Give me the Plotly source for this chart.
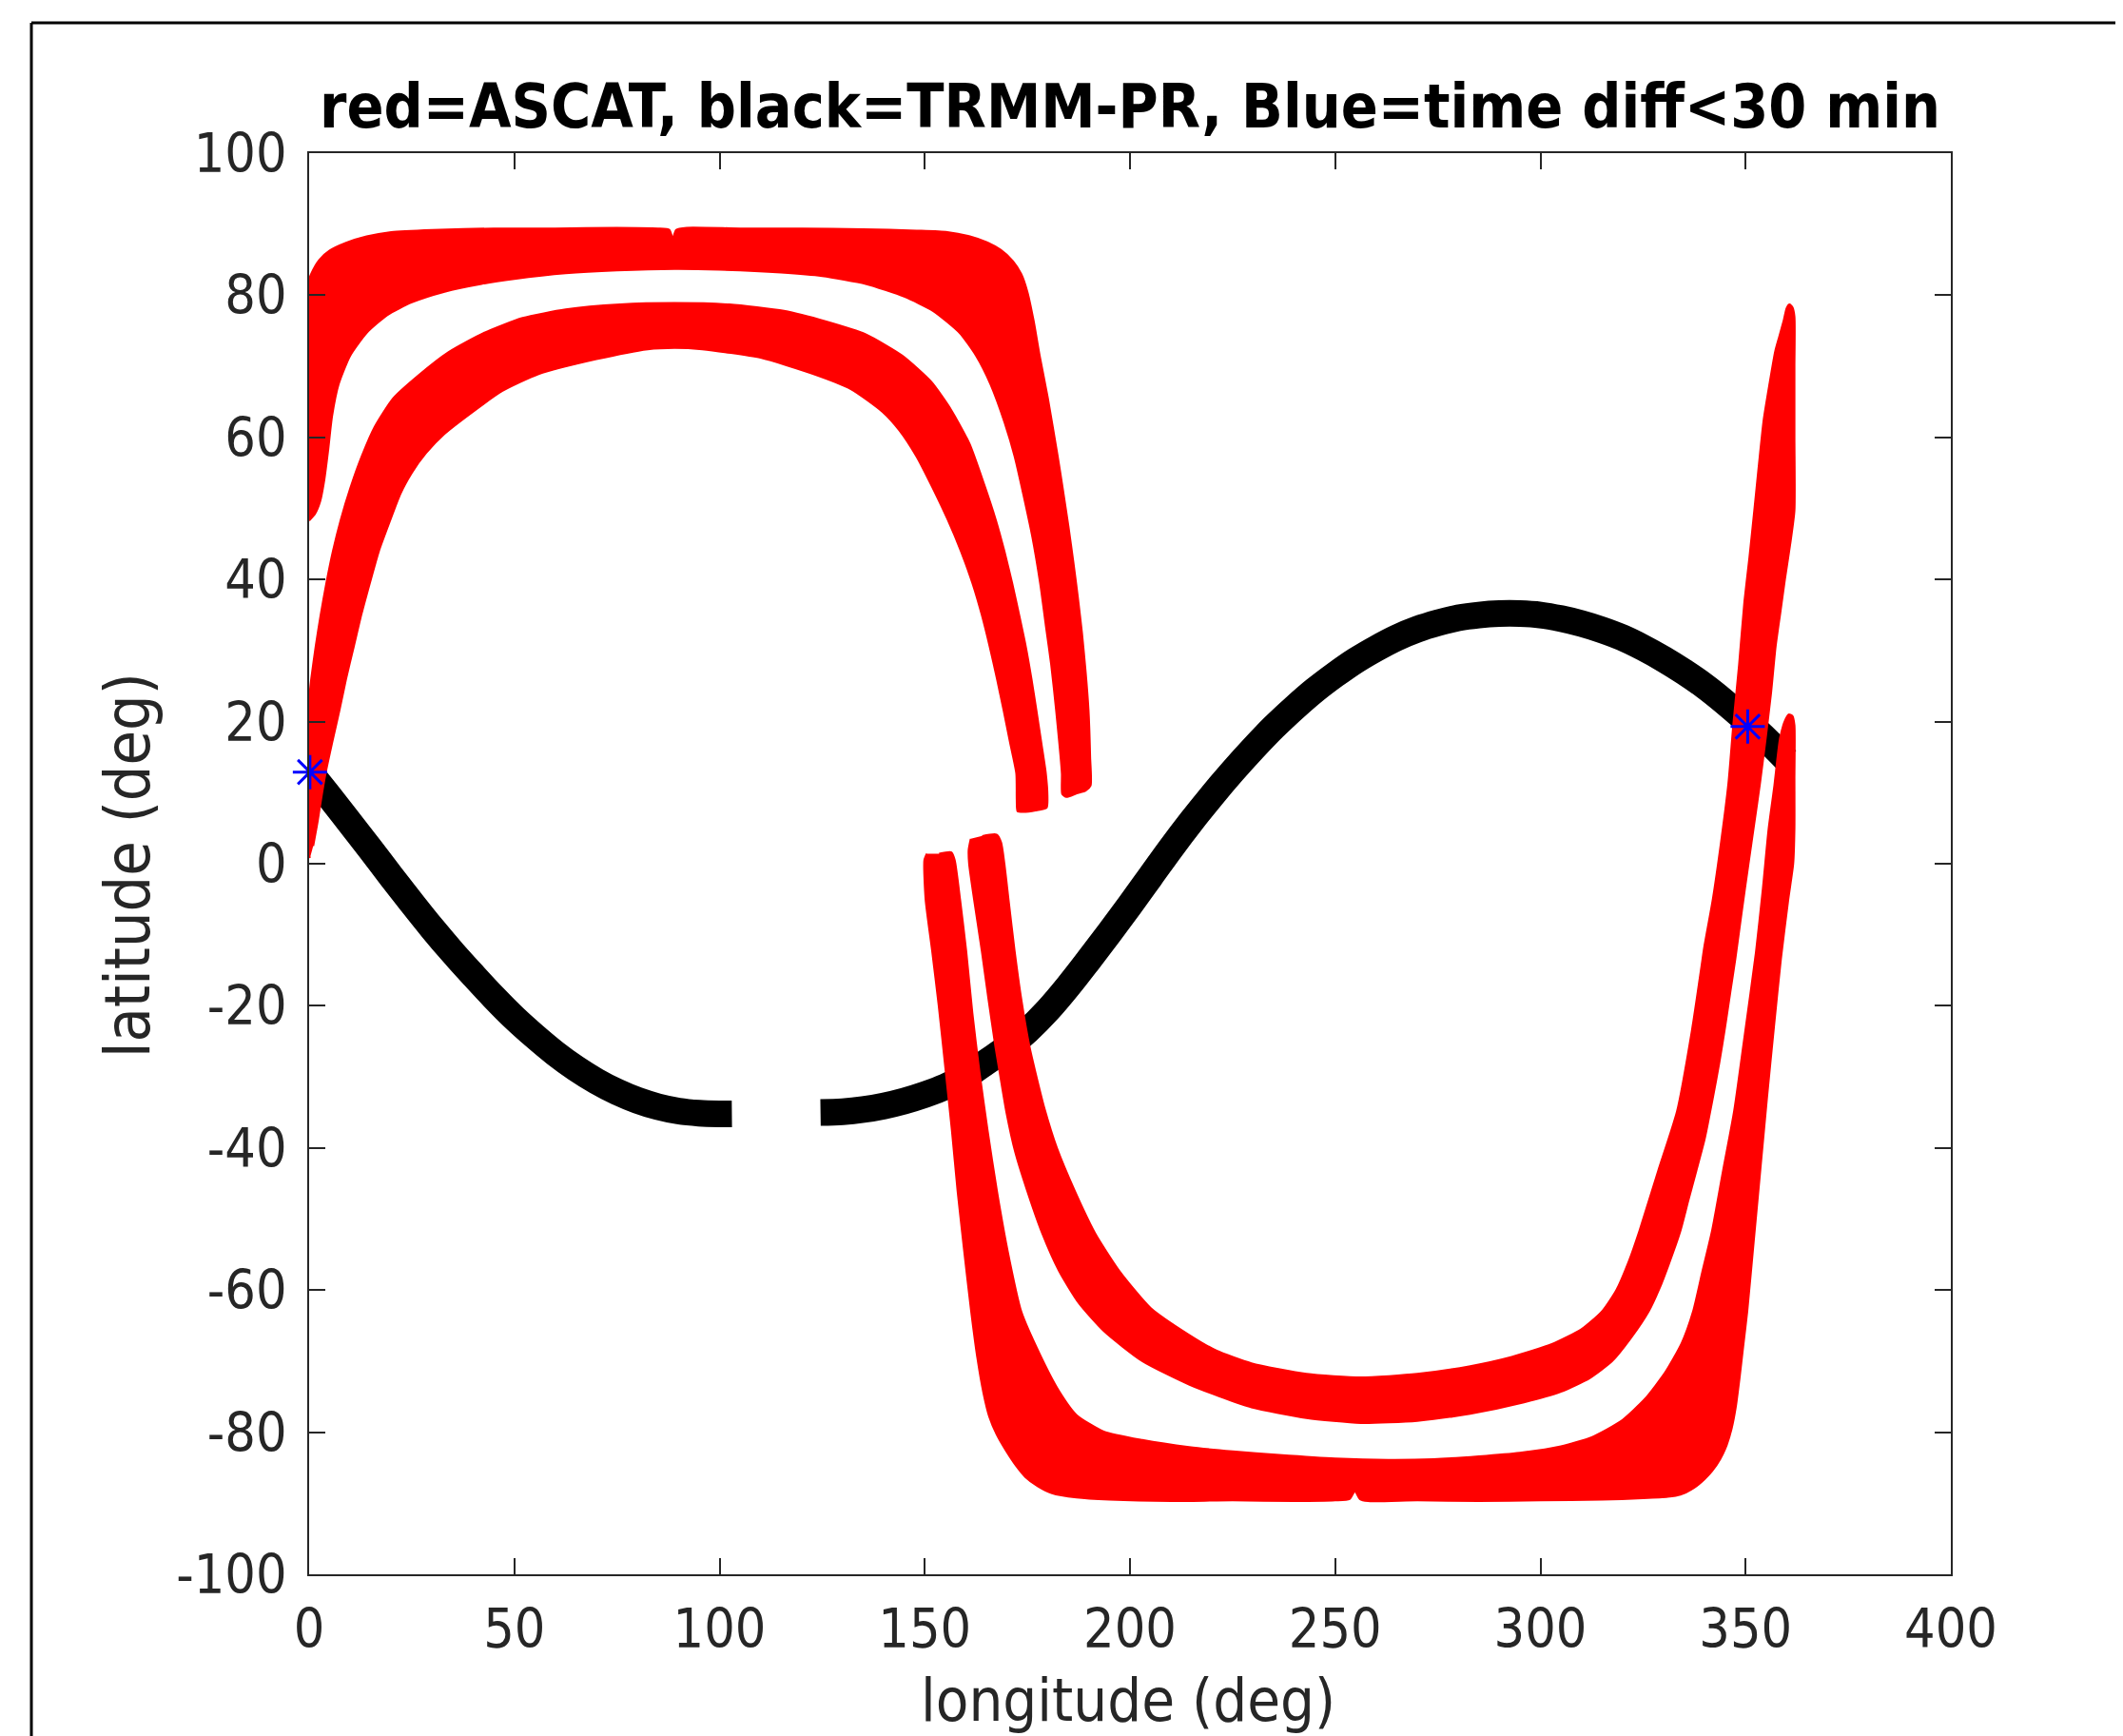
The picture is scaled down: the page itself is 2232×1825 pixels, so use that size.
import plotly.graph_objects as go

# ---------------- data ----------------
# TRMM-PR ground track (black), two segments
trmm_a_lon = [0, 5, 10, 15, 20, 25, 30, 35, 40, 45, 50, 55, 60, 65, 70, 75, 80, 85, 90, 95, 100, 103]
trmm_a_lat = [13.0, 9.4, 5.7, 2.0, -1.8, -5.5, -9.1, -12.5, -15.7, -18.8, -21.7, -24.3, -26.7, -28.8, -30.6,
              -32.1, -33.3, -34.2, -34.8, -35.1, -35.2, -35.2]
trmm_b_lon = [124.6, 130, 135, 140, 145, 150, 155, 160, 165, 170, 175, 180, 185, 190, 195, 200, 205, 210, 215,
              220, 225, 230, 235, 240, 245, 250, 255, 260, 265, 270, 275, 280, 285, 290, 295, 300, 305, 310, 315,
              320, 325, 330, 335, 340, 345, 350, 355, 360]
trmm_b_lat = [-35.0, -34.9, -34.6, -34.1, -33.4, -32.5, -31.4, -29.9, -27.9, -25.9, -23.5, -20.6, -17.2, -13.5,
              -9.7, -5.8, -1.8, 2.2, 6.0, 9.6, 13.0, 16.2, 19.2, 21.9, 24.4, 26.6, 28.6, 30.3, 31.8, 33.0, 33.9,
              34.6, 35.0, 35.2, 35.2, 35.0, 34.5, 33.8, 32.9, 31.8, 30.4, 28.8, 27.0, 25.0, 22.7, 20.2, 17.5, 14.6]

# ASCAT swaths (red) - outlines of the four swath bands
north_outer_lon = [-1.2, -1.6, -1.6, -1.5, -1.3, -0.6, 0.5, 2.5, 5.0, 9.0, 14.0, 20.0, 30.0, 45.0, 60.0, 75.0,
                   85.0, 87.8, 88.6, 89.4, 92.0, 105.0, 120.0, 135.0, 148.0, 155.5, 161.0, 165.0, 168.5, 171.5,
                   173.5, 175.0, 176.5, 178.0, 180.0, 182.4, 183.7, 185.0, 186.2, 187.3, 188.3, 189.2, 189.9,
                   190.3, 190.4, 189.2, 187.0, 184.5, 183.5,
                   183.4, 182.0, 180.8, 179.5, 178.1, 176.2, 174.0, 171.9, 169.5, 166.0, 162.5, 158.5, 152.0,
                   145.0, 135.6, 125.0, 115.0, 100.0, 89.0, 75.0, 62.5, 50.0, 42.0, 33.0, 25.0, 19.0, 14.0, 10.0,
                   7.2, 5.6, 4.6, 3.7, 2.7, 1.4, 0.0]
north_outer_lat = [48.6, 50.5, 60.0, 70.0, 78.0, 81.0, 83.0, 85.0, 86.3, 87.4, 88.3, 88.9, 89.2, 89.4, 89.4, 89.5,
                   89.4, 89.2, 88.0, 89.2, 89.5, 89.4, 89.4, 89.3, 89.1, 88.9, 88.3, 87.5, 86.4, 84.8,
                   83.0, 80.5, 76.5, 71.5, 65.5, 57.3, 52.5, 47.5, 42.5, 37.5, 32.5, 27.0, 21.6,
                   15.0, 11.0, 10.3, 9.9, 9.4, 9.8,
                   12.7, 21.6, 28.0, 33.5, 39.5, 46.0, 52.0, 57.3, 62.0, 67.5, 71.5, 74.7, 77.8,
                   79.8, 81.6, 82.7, 83.2, 83.6, 83.7, 83.5, 83.1, 82.3, 81.6, 80.5, 79.0, 77.2, 74.7, 71.5,
                   67.5, 63.0, 58.0, 54.0, 51.0, 49.2, 48.3]

north_inner_lon = [0.2, -0.8, -1.8, -1.8, -1.0, -0.3, 0.5, 1.6, 2.8, 4.2, 5.8, 7.7, 10.0, 12.8, 16.0, 20.5, 26.6,
                   34.0, 42.6, 52.0, 62.5, 75.8, 89.0, 102.4, 115.7, 126.0, 135.6, 144.5, 151.6, 156.5, 160.9,
                   164.4, 167.3, 169.4, 171.3, 173.0, 174.6, 176.0, 177.2, 178.4, 179.5, 179.9, 179.7, 177.0,
                   174.0, 172.6, 172.4,
                   172.3, 170.8, 169.2, 167.6, 165.8, 163.9, 161.6, 158.8, 155.6, 152.0, 148.0, 143.8, 139.7,
                   132.0, 122.4, 110.0, 95.8, 89.0, 82.5, 70.0, 55.9, 47.0, 39.9, 33.0, 28.5, 25.0, 22.2, 19.8,
                   17.0, 14.8, 12.7, 10.9, 9.0, 7.4, 5.6, 4.0, 2.9, 2.1, 1.0]
north_inner_lat = [0.8, 2.5, 6.0, 12.7, 18.0, 21.6, 26.0, 30.6, 35.0, 39.5, 44.0, 48.4, 52.8, 57.3, 61.5, 65.5,
                   68.7, 72.0, 74.7, 76.8, 78.0, 78.7, 78.9, 78.7, 77.8, 76.3, 74.5, 71.5, 67.8, 63.8, 59.1,
                   53.5, 48.4, 44.0, 39.5, 35.0, 30.6, 26.0, 21.6, 17.0, 12.7, 9.5, 7.9, 7.5,
                   7.3, 7.4, 9.0,
                   12.7, 17.0, 21.6, 26.0, 30.6, 35.0, 39.5, 44.0, 48.4, 52.8, 57.3, 61.0, 63.6,
                   66.8, 69.0, 71.2, 72.4, 72.6, 72.4, 71.0, 68.9, 66.5, 63.6, 60.5, 57.8, 55.0, 52.0, 48.4,
                   44.0, 39.5, 35.0, 30.6, 26.0, 21.6, 17.0, 12.7, 9.0, 6.0, 2.5]

south_outer_lon = [150.5, 149.9, 150.2, 151.8, 153.4, 155.1, 156.6, 158.0, 159.6, 161.3, 162.8, 164.3, 165.7,
                   167.5, 170.0, 172.2, 174.5, 177.5, 181.0, 187.0, 195.0, 210.0, 225.0, 240.0, 250.0, 253.5,
                   254.8, 256.0, 258.0, 270.0, 285.0, 300.0, 315.0, 325.0, 331.0, 334.1, 337.5, 340.0, 341.8,
                   343.8, 345.4, 346.6, 347.6, 348.5, 349.4, 350.4, 352.0, 353.6, 355.2, 356.9, 358.6, 360.4,
                   361.6, 361.9, 361.9, 361.9, 361.4, 360.5, 359.7, 358.4, 357.0, 355.6, 354.2, 352.5, 349.8,
                   347.2, 344.5, 341.8, 339.5, 337.2, 334.4, 330.5, 325.5, 319.5, 312.5, 305.0, 295.0, 285.0,
                   274.0, 262.9, 250.0, 236.3, 225.0, 214.4, 203.0, 193.6, 187.0, 182.7, 178.0, 173.5, 170.2,
                   167.6, 165.3, 163.3, 161.6, 160.1, 158.6, 157.3, 156.5, 153.5]
south_outer_lat = [1.4, 0.5, -5.0, -12.3, -20.0, -29.2, -37.5, -46.1, -54.5, -63.0, -69.5, -74.5, -77.8,
                   -80.3, -82.8, -84.7, -86.3, -87.6, -88.6, -89.2, -89.5, -89.7, -89.6, -89.7, -89.6, -89.4,
                   -88.3, -89.4, -89.7, -89.6, -89.7, -89.6, -89.5, -89.3, -89.1, -88.8, -87.8, -86.6, -85.5,
                   -83.8, -81.8, -79.5, -76.5, -72.5, -68.0, -63.0, -53.0, -43.0, -33.0, -23.0, -13.4, -5.0,
                   0.0, 5.0, 12.0, 19.5, 20.8, 21.0, 20.3, 17.7, 11.0, 4.9, -3.5, -12.5, -24.0,
                   -34.8, -43.2, -51.7, -57.3, -63.0, -67.5, -71.5, -75.3, -78.5, -80.7, -82.0, -82.9, -83.4,
                   -83.8, -83.9, -83.7, -83.2, -82.7, -82.1, -81.1, -79.9, -77.6, -74.2, -69.0, -63.0, -54.5,
                   -46.1, -37.5, -29.2, -21.0, -12.3, -5.0, 0.5, 1.6, 1.4]

south_inner_lon = [161.2, 160.7, 160.8, 162.0, 163.9, 165.5, 167.2, 168.2, 169.9, 172.0, 175.0, 178.6, 182.7,
                   187.5, 193.7, 203.0, 214.4, 222.0, 229.6, 243.0, 256.2, 270.0, 282.9, 296.0, 305.0, 312.0,
                   317.5, 322.0, 326.4, 329.0, 331.2, 334.1, 336.0, 338.0, 340.0, 342.0, 343.6, 345.0, 346.3,
                   347.5, 349.0, 350.7, 352.2, 353.5, 354.9, 356.2, 357.3, 358.5, 359.6, 361.0, 361.9, 361.9,
                   361.9, 361.9, 361.4, 360.7, 360.0, 359.3, 358.2, 357.2, 355.8, 354.4, 353.2, 352.1, 350.9,
                   349.7, 348.4, 347.0, 345.8, 344.0, 342.0, 339.9, 339.5, 336.9, 333.3, 328.7, 324.1, 321.5,
                   318.5, 315.0, 310.0, 302.8, 293.0, 282.9, 270.0, 256.2, 243.0, 229.6, 221.0, 214.4, 205.0,
                   197.4, 191.5, 186.6, 182.2, 179.2, 176.9, 175.5, 173.5, 171.9, 170.4, 169.4, 168.6, 167.5,
                   164.0]
south_inner_lat = [3.5, 2.0, 0.0, -5.0, -12.3, -19.0, -25.7, -29.2, -35.0, -40.5, -46.1, -52.0, -57.3,
                   -61.8, -65.8, -70.0, -73.3, -75.0, -76.5, -78.0, -78.7, -78.4, -77.4, -75.8, -74.3, -72.4,
                   -70.0, -66.8, -63.0, -59.8, -56.5, -51.7, -47.5, -43.2, -38.8, -33.0, -28.0, -23.0, -18.0,
                   -13.4, -7.0, 0.0, 6.0, 11.3, 17.7, 24.0, 30.5, 35.5, 40.1, 45.5, 49.7, 60.0,
                   70.0, 77.0, 78.3, 78.7, 78.2, 76.5, 74.2, 72.1, 67.5, 62.5, 56.0, 49.7, 43.0,
                   36.9, 28.0, 19.6, 11.3, 3.0, -5.0, -11.8, -13.4, -23.5, -34.8, -43.2, -51.7, -56.0,
                   -60.0, -63.0, -65.5, -67.6, -69.4, -70.7, -71.8, -72.3, -71.8, -70.3, -68.5, -66.3, -62.5,
                   -57.3, -52.0, -46.1, -40.0, -34.5, -29.2, -25.7, -19.0, -12.3, -5.0, 0.0, 3.0, 4.1,
                   3.9]

# collocations with time difference < 30 min (blue)
match_lon = [0.2, 350.5]
match_lat = [12.9, 19.3]

x_ticks = [0, 50, 100, 150, 200, 250, 300, 350, 400]
y_ticks = [-100, -80, -60, -40, -20, 0, 20, 40, 60, 80, 100]

# ---------------- figure ----------------
FONT = "DejaVu Sans Condensed, DejaVu Sans, sans-serif"
AX = "#262626"

OFF = 8                       # page body margin of the html file
W, H = 2232 - OFF, 1825 - OFF
PL, PT, PW, PH = 325, 161, 1726, 1494   # plot area in screen pixels
L, T = PL - OFF, PT - OFF
R, B = W - L - PW, H - T - PH


def px(X):   # screen x pixel -> paper
    return (X - PL) / PW


def py(Y):   # screen y pixel -> paper
    return (PT + PH - Y) / PH


fig = go.Figure()

for lon, lat in [(trmm_a_lon, trmm_a_lat), (trmm_b_lon, trmm_b_lat)]:
    fig.add_trace(go.Scatter(x=lon, y=lat, mode="lines",
                             line=dict(color="black", width=28, shape="spline", smoothing=1.0),
                             showlegend=False, hoverinfo="skip"))

for lon, lat in [(north_outer_lon, north_outer_lat), (north_inner_lon, north_inner_lat),
                 (south_outer_lon, south_outer_lat), (south_inner_lon, south_inner_lat)]:
    fig.add_trace(go.Scatter(x=lon, y=lat, mode="lines", fill="toself", fillcolor="#ff0000",
                             line=dict(color="#ff0000", width=2, shape="spline", smoothing=0.6),
                             showlegend=False, hoverinfo="skip"))

fig.add_trace(go.Scatter(x=match_lon, y=match_lat, mode="markers",
                         marker=dict(symbol="asterisk-open", size=30, color="#0000ff",
                                     line=dict(color="#0000ff", width=3)),
                         showlegend=False, cliponaxis=False, hoverinfo="skip"))

axis_common = dict(showgrid=False, zeroline=False, showline=True, linecolor=AX, linewidth=2,
                   mirror="ticks", ticks="inside", ticklen=17, tickwidth=2, tickcolor=AX,
                   tickfont=dict(family=FONT, size=57, color=AX), automargin=False)

fig.update_layout(
    width=W, height=H,
    margin=dict(l=L, r=R, t=T, b=B, autoexpand=False),
    paper_bgcolor="white", plot_bgcolor="white",
    font=dict(family=FONT, color=AX, size=57),
    title=dict(text="<b>red=ASCAT, black=TRMM-PR, Blue=time diff&lt;30 min</b>",
               font=dict(family=FONT, size=64, color="black"),
               x=px(1188), xref="paper", xanchor="center",
               y=1 - (112 - OFF) / H, yref="container", yanchor="middle"),
    xaxis=dict(range=[0, 400], tickvals=x_ticks, ticktext=[str(v) for v in x_ticks],
               ticklabelstandoff=7, **axis_common),
    yaxis=dict(range=[-100, 100], tickvals=y_ticks, ticktext=[str(v) for v in y_ticks],
               ticklabelstandoff=10, **axis_common),
    annotations=[
        dict(text="longitude (deg)", xref="paper", yref="paper", x=px(1186), y=py(1787),
             xanchor="center", yanchor="middle", showarrow=False,
             font=dict(family=FONT, size=63, color=AX)),
        dict(text="latitude (deg)", xref="paper", yref="paper", x=px(134), y=py(910),
             xanchor="center", yanchor="middle", showarrow=False, textangle=-90,
             font=dict(family=FONT, size=66, color=AX)),
    ],
    shapes=[
        dict(type="line", xref="paper", yref="paper", x0=px(33), x1=px(2240), y0=py(24), y1=py(24),
             line=dict(color="black", width=3)),
        dict(type="line", xref="paper", yref="paper", x0=px(33), x1=px(33), y0=py(24), y1=py(1840),
             line=dict(color="black", width=3)),
    ],
)

fig.write_html("out.html")
